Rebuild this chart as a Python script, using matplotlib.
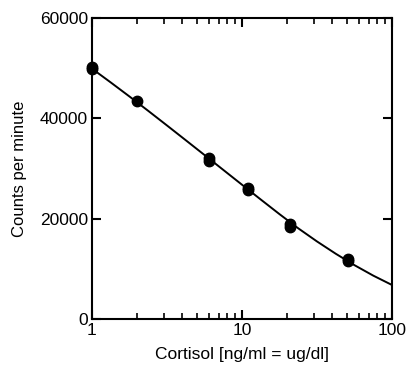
import matplotlib
matplotlib.use("Agg")
import matplotlib.pyplot as plt
from matplotlib.ticker import LogLocator, NullFormatter, FixedLocator

plt.rcParams['font.family'] = ['Liberation Sans', 'DejaVu Sans']

# Standards (duplicates)
std_x = [1, 1, 2, 6, 6, 11, 11, 21, 21, 51, 51]
std_y = [50200, 49800, 43400, 32000, 31500, 26150, 25700, 18850, 18400, 12000, 11550]

# Fitted curve
curve_x = [1, 1.334, 1.778, 2.371, 3.162, 4.217, 5.623, 7.499, 10,
           13.34, 17.78, 23.71, 31.62, 42.17, 56.23, 74.99, 100]
curve_y = [49900, 47150, 44350, 41488, 38576, 35639, 32689, 29727, 26765,
           23815, 20903, 18078, 15458, 13008, 10728, 8648, 6780]

x_ticks = [1, 10, 100]
x_tick_labels = ["1", "10", "100"]
y_ticks = [0, 20000, 40000, 60000]

fig = plt.figure(figsize=(4.10, 3.71), dpi=100)
ax = fig.add_axes([92/410, 1-319/371, 300/410, 301/371])

ax.plot(curve_x, curve_y, color='black', lw=1.4, zorder=2, solid_joinstyle='round')
ax.plot(std_x, std_y, 'o', color='black', ms=7.5, zorder=3, clip_on=False)

ax.set_xscale('log')
ax.set_xlim(1, 100)
ax.set_ylim(0, 60000)
ax.xaxis.set_major_locator(FixedLocator(x_ticks))
ax.set_xticklabels(x_tick_labels)
ax.xaxis.set_minor_locator(LogLocator(base=10, subs=range(2, 10)))
ax.xaxis.set_minor_formatter(NullFormatter())
ax.set_yticks(y_ticks)
ax.set_yticklabels([str(v) for v in y_ticks])

for s in ax.spines.values():
    s.set_linewidth(1.5)

ax.tick_params(which='major', direction='in', length=6.5, width=1.5, top=True, right=True,
               labelsize=12.5, pad=3)
ax.tick_params(which='minor', direction='in', length=4, width=1.2, top=True, right=True)

ax.set_xlabel("Cortisol [ng/ml = ug/dl]", fontsize=12.5, labelpad=6)
ax.set_ylabel("Counts per minute", fontsize=12, labelpad=9)

fig.savefig("out.png", dpi=100)
